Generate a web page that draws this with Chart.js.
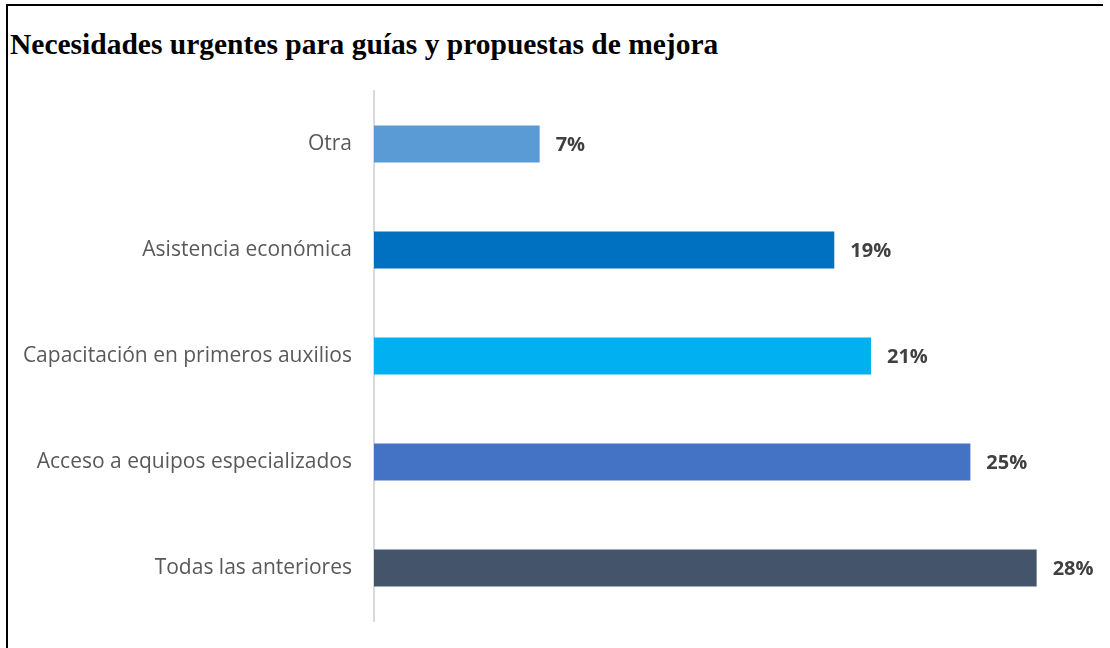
<!DOCTYPE html>
<html>
<head>
<meta charset="utf-8">
<script src="https://cdn.jsdelivr.net/npm/chart.js@4"></script>
<style>
  html, body { margin: 0; padding: 0; background: #fff; }
  #wrap { position: relative; width: 1110px; height: 648px; overflow: hidden; }
  #frame { position: absolute; left: 6px; top: 4px; width: 1095px; height: 700px;
           border-left: 2px solid #000; border-top: 2px solid #000; }
  #title { position: absolute; left: 10px; top: 26px; margin: 0; line-height: 36px;
           font-family: "Liberation Serif", serif; font-weight: bold; font-size: 29.5px; color: #000; }
  #needsChart { position: absolute; left: 0; top: 0; }
</style>
</head>
<body>
<div id="wrap">
  <div id="frame"></div>
  <h1 id="title">Necesidades urgentes para guías y propuestas de mejora</h1>
  <canvas id="needsChart" width="1110" height="648"></canvas>
</div>
<script>
// Categorías y porcentajes
const categories = [
  "Otra",
  "Asistencia económica",
  "Capacitación en primeros auxilios",
  "Acceso a equipos especializados",
  "Todas las anteriores",
];
const percentages = [7.0, 19.45, 21.0, 25.2, 28.0];
const barColors = ["#5B9BD5", "#0070C0", "#00B0F0", "#4472C4", "#44546A"];

// etiquetas de valor a la derecha de cada barra
const valueLabels = {
  id: "valueLabels",
  afterDatasetsDraw(chart) {
    const ctx = chart.ctx;
    const meta = chart.getDatasetMeta(0);
    ctx.save();
    ctx.font = "bold 20px 'Open Sans'";
    ctx.fillStyle = "#404040";
    ctx.textBaseline = "middle";
    ctx.textAlign = "left";
    meta.data.forEach((bar, i) => {
      ctx.fillText(Math.round(percentages[i]) + "%", bar.x + 16, bar.y + 1);
    });
    ctx.restore();
  },
};

const ctx = document.getElementById("needsChart").getContext("2d");
new Chart(ctx, {
  type: "bar",
  data: {
    labels: categories,
    datasets: [
      {
        data: percentages,
        backgroundColor: barColors,
        borderWidth: 0,
        barPercentage: 0.35,
        categoryPercentage: 1.0,
      },
    ],
  },
  options: {
    indexAxis: "y",
    responsive: false,
    animation: false,
    layout: { padding: { top: 91, bottom: 27, left: 0, right: 0 } },
    plugins: {
      legend: { display: false },
      tooltip: { enabled: false },
    },
    scales: {
      x: {
        display: false,
        min: 0,
        max: 31.1,
      },
      y: {
        afterFit(scale) {
          scale.width = 374;
          scale.paddingTop = 0;
          scale.paddingBottom = 0;
        },
        grid: { display: false, drawTicks: false },
        border: { display: true, color: "#D9D9D9", width: 2 },
        ticks: {
          padding: 22,
          color: "#595959",
          font: { family: "Open Sans", size: 21 },
        },
      },
    },
  },
  plugins: [valueLabels],
});
</script>
</body>
</html>
